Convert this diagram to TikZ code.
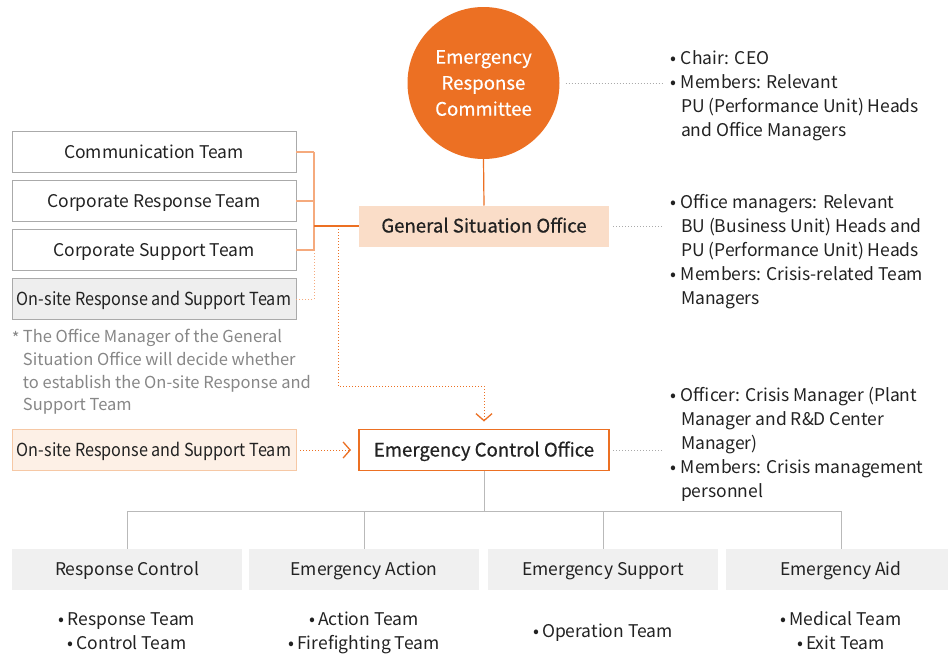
\documentclass[tikz,border=0pt]{standalone}
\usepackage{fontspec}
\setmainfont{Noto Sans CJK KR}
\newfontfamily\cond[FakeStretch=0.9]{Noto Sans CJK KR}
\newfontfamily\medfont[FakeBold=0.6]{Noto Sans CJK KR}
\newfontfamily\lightbold[FakeBold=0.35]{Noto Sans CJK KR}
\usetikzlibrary{arrows.meta}
\definecolor{orng}{RGB}{236,112,35}
\definecolor{lorng}{RGB}{245,170,125}
\definecolor{peach}{RGB}{250,221,200}
\definecolor{bgray}{RGB}{170,170,170}
\definecolor{gfill}{RGB}{238,238,238}
\definecolor{lgray}{RGB}{240,240,240}
\definecolor{onfill}{RGB}{253,240,230}
\definecolor{onborder}{RGB}{246,200,165}
\definecolor{notegray}{RGB}{135,135,135}
\definecolor{txt}{RGB}{34,34,34}
\definecolor{lgline}{RGB}{185,185,185}
\newcommand{\bul}{\makebox[11pt][l]{•}}
\newcommand{\ind}{\hspace*{11pt}}
\begin{document}
\begin{tikzpicture}[x=1pt,y=-1pt,
  every node/.style={inner sep=0pt, outer sep=0pt, text=txt, font=\fontsize{17.5}{24}\selectfont},
  oneline/.style={text height=13pt, text depth=0pt},
  tbox/.style={oneline, draw=bgray, line width=1pt, fill=white, minimum width=284pt, minimum height=41pt},
  officebox/.style={oneline, minimum width=250pt, minimum height=41pt, font=\medfont\fontsize{18.6}{24}\selectfont},
  unitbox/.style={oneline, fill=lgray, minimum width=230pt, minimum height=41pt, font=\fontsize{17.5}{24}\selectfont},
  items/.style={align=center, font=\fontsize{17.5}{24}\selectfont},
  info/.style={anchor=north west, align=left},
  bracket/.style={draw=lorng, line width=1.2pt},
  dotor/.style={draw=orng, line width=1pt, dash pattern=on 1pt off 2pt},
  dotgray/.style={draw=bgray, line width=1pt, dash pattern=on 1pt off 2pt},
  tree/.style={draw=lgline, line width=1pt},
  chev/.style={-{Straight Barb[length=7pt,width=16pt,line width=1.3pt]}}
]
\useasboundingbox[fill=white] (0,0) rectangle (948,667);

% committee
\node[circle, fill=orng, minimum size=152pt, text=white, align=center,
      font=\lightbold\fontsize{18.6}{26}\selectfont] (erc) at (483.5,83) {Emergency\\Response\\Committee};

% offices
\node[officebox, fill=peach] (gso) at (484,226) {General Situation Office};
\node[officebox, draw=orng, line width=1.2pt, fill=white] (eco) at (484,450) {Emergency Control Office};

% left teams
\node[tbox] (comm) at (154,152) {Communication Team};
\node[tbox] (corr) at (154,201) {Corporate Response Team};
\node[tbox] (cors) at (154,250) {Corporate Support Team};
\node[tbox, fill=gfill, font=\cond\fontsize{18}{24}\selectfont] (onsA) at (154,299) {On-site Response and Support Team};
\node[tbox, fill=onfill, draw=onborder, font=\cond\fontsize{18}{24}\selectfont] (onsB) at (154,450) {On-site Response and Support Team};

% note
\node[anchor=north west, text=notegray, font=\fontsize{16.5}{22.7}\selectfont] (star) at (12,331) {*};
\node[info, text=notegray, font=\fontsize{16.5}{22.7}\selectfont] (note) at (23,329.5) {The Office Manager of the General\\Situation Office will decide whether\\to establish the On-site Response and\\Support Team};

% right info
\node[info] (infoA) at (670,51) {\bul Chair: CEO\\\bul Members: Relevant\\\ind PU (Performance Unit) Heads\\\ind and Office Managers};
\node[info] (infoB) at (670,194) {\bul Office managers: Relevant\\\ind BU (Business Unit) Heads and\\\ind PU (Performance Unit) Heads\\\bul Members: Crisis-related Team\\\ind Managers};
\node[info] (infoC) at (670,387) {\bul Officer: Crisis Manager (Plant\\\ind Manager and R\&D Center\\\ind Manager)\\\bul Members: Crisis management\\\ind personnel};

% units
\node[unitbox] (u1) at (127,569) {Response Control};
\node[unitbox] (u2) at (364,569) {Emergency Action};
\node[unitbox] (u3) at (603,569) {Emergency Support};
\node[unitbox] (u4) at (841,569) {Emergency Aid};
\node[items] (i1) at (127,631) {•\hspace{3pt}Response Team\\•\hspace{3pt}Control Team};
\node[items] (i2) at (364,633) {•\hspace{3pt}Action Team\\•\hspace{3pt}Firefighting Team};
\node[items] (i3) at (603,632.5) {•\hspace{3pt}Operation Team};
\node[items] (i4) at (841,631) {•\hspace{3pt}Medical Team\\•\hspace{3pt}Exit Team};

% coordinates
\coordinate (bx) at (314,226);
\coordinate (b1) at (314,152);
\coordinate (b3) at (314,250);
\coordinate (b4) at (314,299);
\coordinate (dv) at (338,226);
\coordinate (dc) at (338,386);
\coordinate (dd) at (484,386);
\coordinate (tj) at (484,511);

% connectors
\draw[draw=orng, line width=1.2pt] (erc.south) -- (gso.north);
\draw[bracket] (comm.east) -- (b1);
\draw[bracket] (corr.east) -- (corr.east -| b1);
\draw[bracket] (cors.east) -- (b3);
\draw[bracket] (b1) -- (b3);
\draw[dotor, draw=lorng] (b3) -- (b4) -- (onsA.east);
\draw[draw=orng, line width=1.2pt] (bx) -- (gso.west);
\draw[dotor, chev, shorten >=8pt] (dv) -- (dc) -- (dd) -- (eco.north);
\draw[dotor, chev, shorten <=4pt, shorten >=8pt] (onsB.east) -- (eco.west);

\draw[dotgray, shorten <=6pt, shorten >=0pt] (erc.east) -- ++(104,0);
\draw[dotgray, shorten <=4pt] (gso.east) -- ++(54,0);
\draw[dotgray, shorten <=4pt] (eco.east) -- ++(54,0);

\draw[tree] (eco.south) -- (tj);
\draw[tree] (u1.north) -- (u1.north |- tj) -- (u4.north |- tj) -- (u4.north);
\draw[tree] (u2.north) -- (u2.north |- tj);
\draw[tree] (u3.north) -- (u3.north |- tj);
\end{tikzpicture}
\end{document}
